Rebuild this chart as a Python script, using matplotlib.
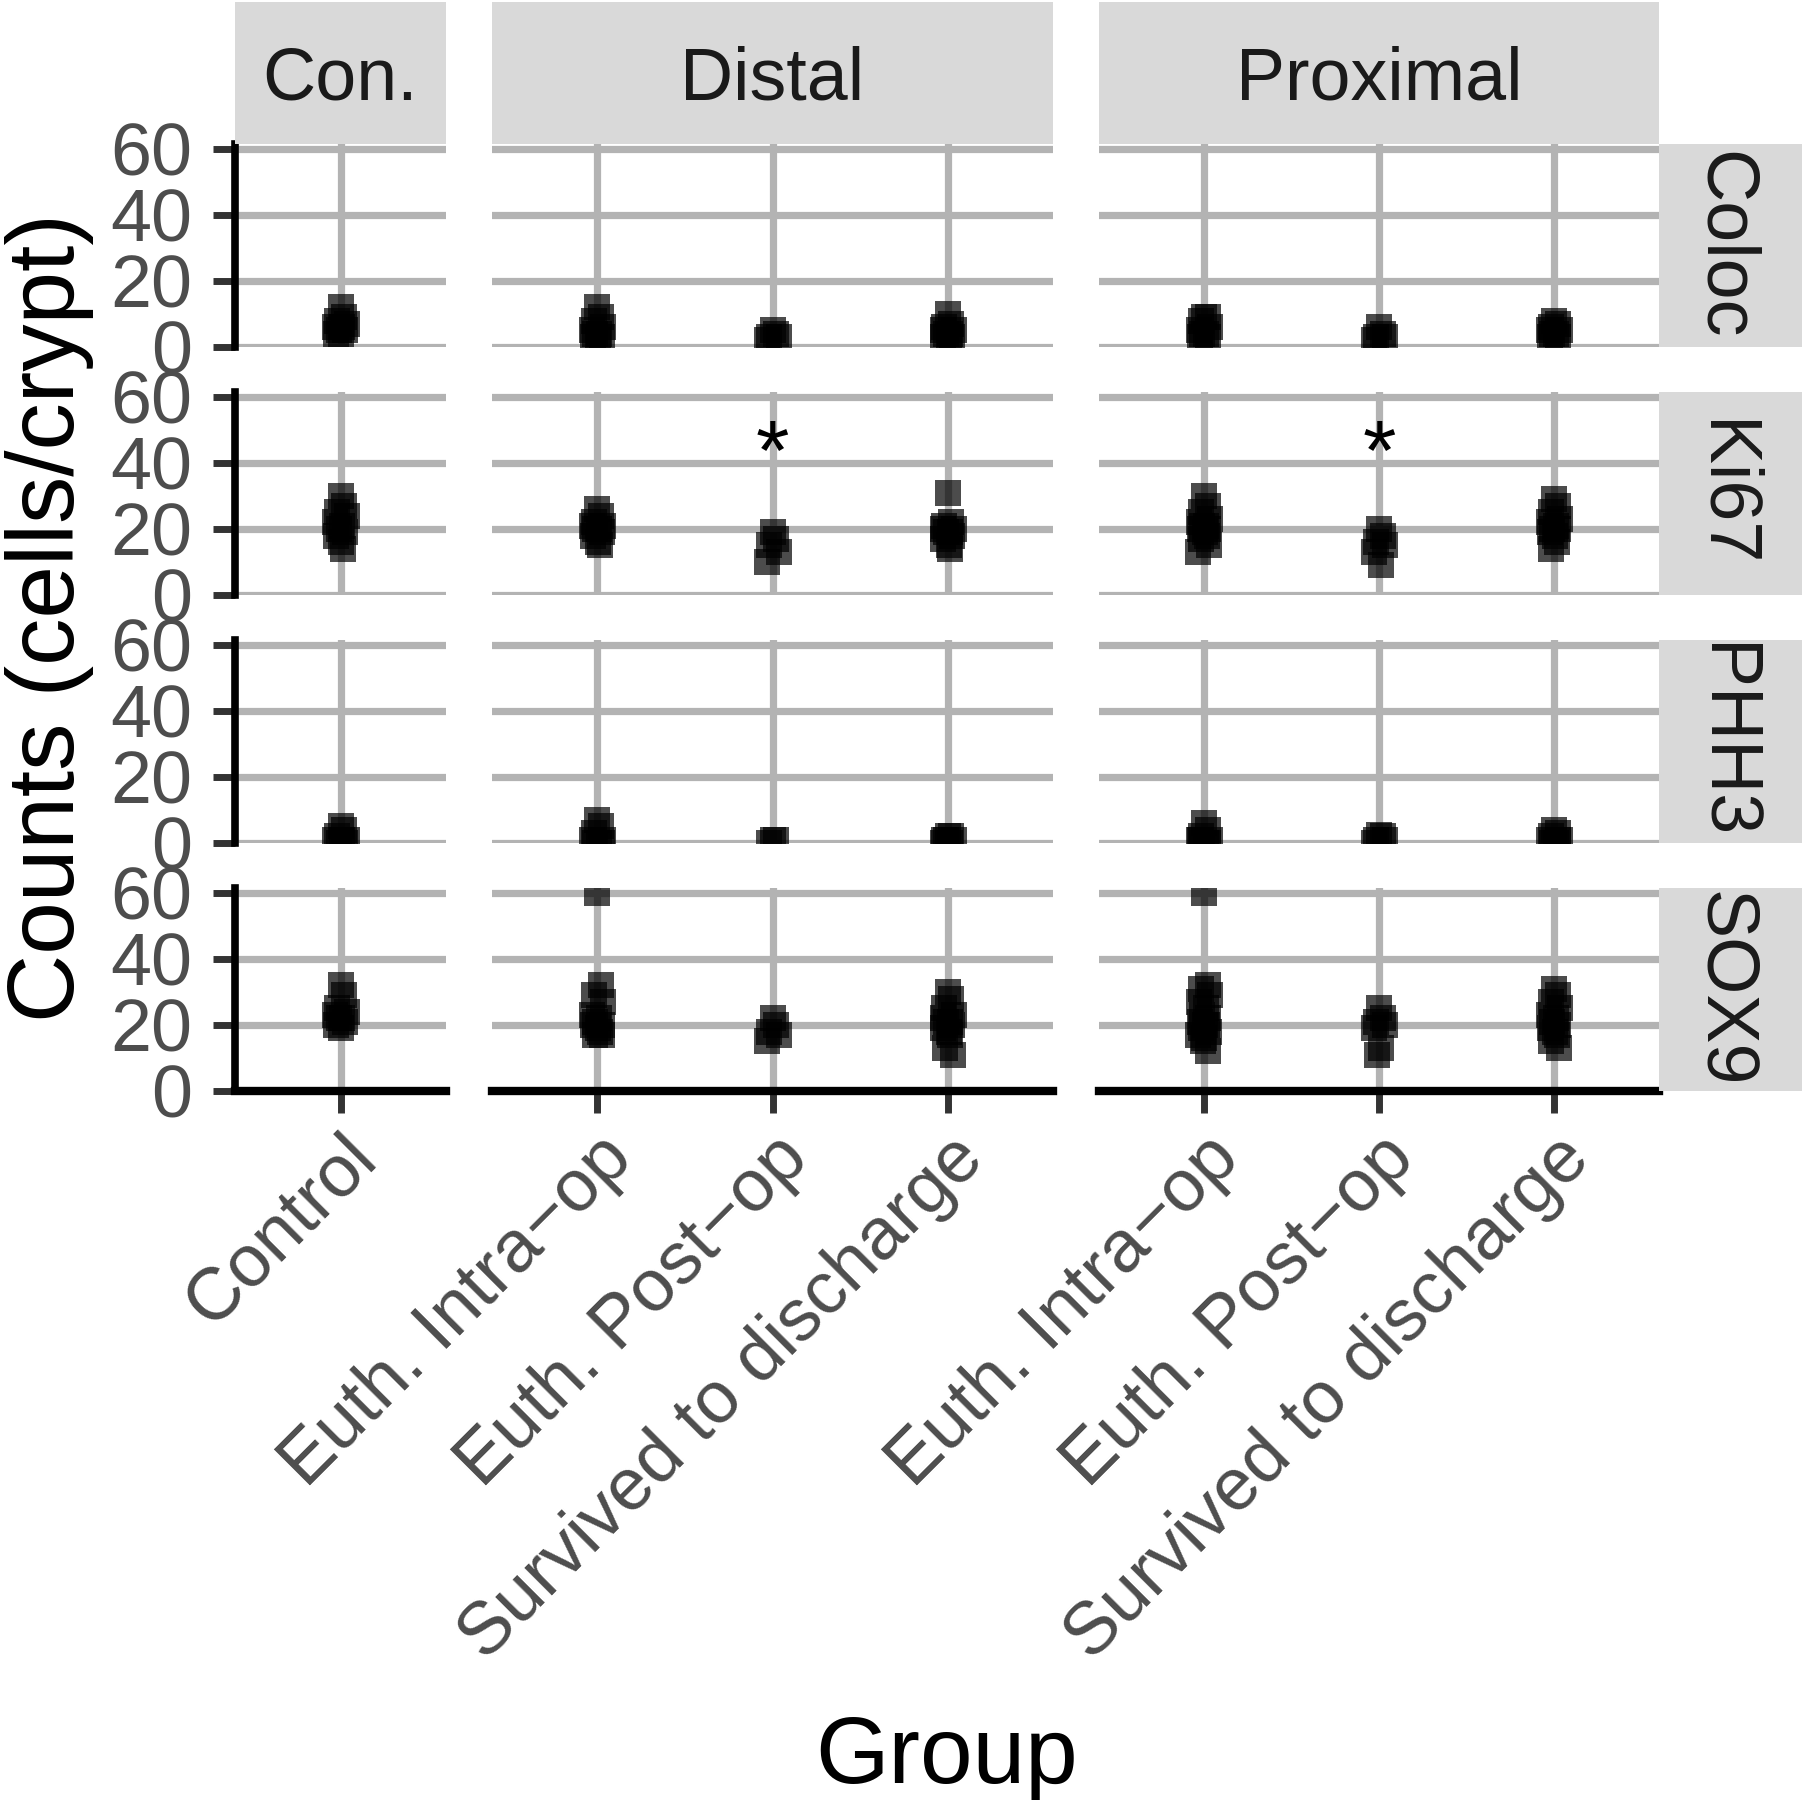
import matplotlib.pyplot as plt
import numpy as np

plt.rcParams['font.family'] = ['Liberation Sans', 'DejaVu Sans']

MINUS = "\u2212"
regions = ["Con.", "Distal", "Proximal"]
markers = ["Coloc", "Ki67", "PHH3", "SOX9"]
groups = {
    "Con.": ["Control"],
    "Distal": ["Euth. Intra" + MINUS + "op", "Euth. Post" + MINUS + "op", "Survived to discharge"],
    "Proximal": ["Euth. Intra" + MINUS + "op", "Euth. Post" + MINUS + "op", "Survived to discharge"],
}

# counts per animal, one list per group (order as in `groups`)
coloc = {
    "Con.": [[12, 9, 8, 7, 6, 6, 5, 5, 4, 4]],
    "Distal": [[12, 9, 8, 6, 5, 4, 4, 3, 3, 2],
               [5, 4, 3, 3, 2],
               [10, 7, 6, 5, 5, 4, 4, 3, 3, 2]],
    "Proximal": [[9, 9, 8, 6, 5, 4, 4, 3, 3],
                 [6, 4, 3, 3, 2],
                 [8, 7, 6, 5, 5, 4, 4, 3, 3]],
}
ki67 = {
    "Con.": [[30, 27, 25, 24, 22, 21, 20, 19, 18, 16, 14]],
    "Distal": [[26, 24, 22, 21, 21, 20, 20, 19, 18, 16, 15],
               [19, 17, 15, 13, 10],
               [31, 22, 21, 20, 20, 19, 19, 18, 17, 15, 14]],
    "Proximal": [[30, 27, 25, 23, 22, 21, 21, 20, 20, 19, 18, 17, 15, 13],
                 [20, 18, 16, 15, 13, 9],
                 [29, 27, 25, 23, 22, 21, 20, 20, 19, 18, 16, 14]],
}
phh3 = {
    "Con.": [[5, 4, 2, 1, 1, 1, 0, 0]],
    "Distal": [[7, 5, 3, 1, 1, 0, 0, 0],
               [1, 1, 0],
               [2, 2, 1, 1, 0, 0, 1]],
    "Proximal": [[6, 4, 2, 1, 1, 0, 0, 0, 1],
                 [2.5, 2, 1, 1, 0],
                 [4, 3, 2, 1, 1, 0, 0, 1]],
}
sox9 = {
    "Con.": [[32, 29, 25, 24, 23, 22, 22, 21, 20, 19]],
    "Distal": [[60, 32, 29, 27, 23, 22, 21, 20, 20, 19, 18, 17, 17],
               [22, 20, 18, 17, 15],
               [30, 28, 25, 23, 22, 21, 21, 20, 19, 18, 17, 13, 11]],
    "Proximal": [[60, 32, 31, 29, 27, 25, 23, 22, 21, 20, 20, 19, 18, 17, 16, 15, 12],
                 [25, 22, 21, 20, 19, 13, 11],
                 [31, 29, 27, 25, 23, 22, 21, 20, 19, 18, 17, 15, 13]],
}
data = {"Coloc": coloc, "Ki67": ki67, "PHH3": phh3, "SOX9": sox9}

# significance marks (marker, region, group index, y)
sig_marks = [("Ki67", "Distal", 1, 50), ("Ki67", "Proximal", 1, 50)]

y_ticks = [0, 20, 40, 60]

# fixed horizontal jitter pattern (x units)
jitter = [0.0, 0.02, -0.02, 0.035, -0.03, 0.01, -0.01, 0.025, -0.025, 0.005, 0.015, -0.015, 0.03, -0.035, 0.0, -0.005, 0.02]

W, H = 1804, 1800
fig = plt.figure(figsize=(W / 100, H / 100), dpi=100)

col_x = [(235, 446), (492, 1053), (1099, 1659)]
row_y = [(144, 347), (392, 595), (640, 843), (888, 1091)]
strip_top = (2, 144)
strip_right = (1659, 1802)

def rect(x0, x1, y0, y1):
    return [x0 / W, 1 - y1 / H, (x1 - x0) / W, (y1 - y0) / H]

grid_col = "#b3b3b3"
tick_fs = 53
title_fs = 68

for r, m in enumerate(markers):
    for c, reg in enumerate(regions):
        ax = fig.add_axes(rect(col_x[c][0], col_x[c][1], row_y[r][0], row_y[r][1]))
        labs = groups[reg]
        n = len(labs)
        ax.set_xlim(0.4, n + 0.6)
        ax.set_ylim(0, 61.5)
        ax.set_xticks(range(1, n + 1))
        ax.set_yticks(y_ticks)
        ax.set_axisbelow(True)
        ax.grid(True, color=grid_col, lw=5.2)
        for s in ax.spines.values():
            s.set_visible(False)
        if c == 0:
            ax.spines["left"].set_visible(True)
            ax.spines["left"].set_linewidth(5.5)
            ax.spines["left"].set_color("black")
        if r == len(markers) - 1:
            ax.spines["bottom"].set_visible(True)
            ax.spines["bottom"].set_linewidth(6)
            ax.spines["bottom"].set_color("black")
        ax.tick_params(axis="y", left=(c == 0), labelleft=(c == 0), length=16, width=5,
                       color="#333333", pad=15, labelsize=tick_fs, labelcolor="#4d4d4d")
        ax.tick_params(axis="x", bottom=(r == len(markers) - 1), labelbottom=(r == len(markers) - 1),
                       length=16, width=5, color="#333333", pad=7, labelsize=tick_fs,
                       labelcolor="#4d4d4d")
        if r == len(markers) - 1:
            ax.set_xticklabels(labs, rotation=45, ha="right", va="top", rotation_mode="anchor")
        else:
            ax.set_xticklabels([])
        for gi, vals in enumerate(data[m][reg]):
            xs = [gi + 1 + jitter[k % len(jitter)] for k in range(len(vals))]
            ax.scatter(xs, vals, marker="s", s=330, c="black", alpha=0.7,
                       linewidths=0, zorder=3)
        for (sm, sr, sg, sy) in sig_marks:
            if sm == m and sr == reg:
                ax.annotate("*", (sg + 1, sy), xytext=(0, -0.58 * 62), textcoords="offset points",
                            ha="center", va="baseline", fontsize=62, color="black", zorder=4)

# top strips
for c, reg in enumerate(regions):
    sax = fig.add_axes(rect(col_x[c][0], col_x[c][1], strip_top[0], strip_top[1]))
    sax.set_facecolor("#d9d9d9")
    sax.set_xticks([]); sax.set_yticks([])
    for s in sax.spines.values():
        s.set_visible(False)
    off = 0.358 * tick_fs / 72 * 100 / (strip_top[1] - strip_top[0])
    sax.text(0.5, 0.5 - off, reg, transform=sax.transAxes, ha="center", va="baseline",
             fontsize=tick_fs, color="#1a1a1a")

# right strips
for r, m in enumerate(markers):
    sax = fig.add_axes(rect(strip_right[0], strip_right[1], row_y[r][0], row_y[r][1]))
    sax.set_facecolor("#d9d9d9")
    sax.set_xticks([]); sax.set_yticks([])
    for s in sax.spines.values():
        s.set_visible(False)
    off = 0.358 * tick_fs / 72 * 100 / (strip_right[1] - strip_right[0])
    sax.text(0.5 - off, 0.5, m, transform=sax.transAxes, ha="center", va="baseline",
             rotation=270, rotation_mode="anchor", fontsize=tick_fs, color="#1a1a1a")

# axis titles
fig.text(74 / W, 1 - 618 / H, "Counts (cells/crypt)", rotation=90, rotation_mode="anchor",
         ha="center", va="baseline", fontsize=title_fs, color="black")
fig.text(947 / W, 1 - 1783 / H, "Group", ha="center", va="baseline",
         fontsize=title_fs, color="black")

fig.savefig("out.png", dpi=100, facecolor="white")
